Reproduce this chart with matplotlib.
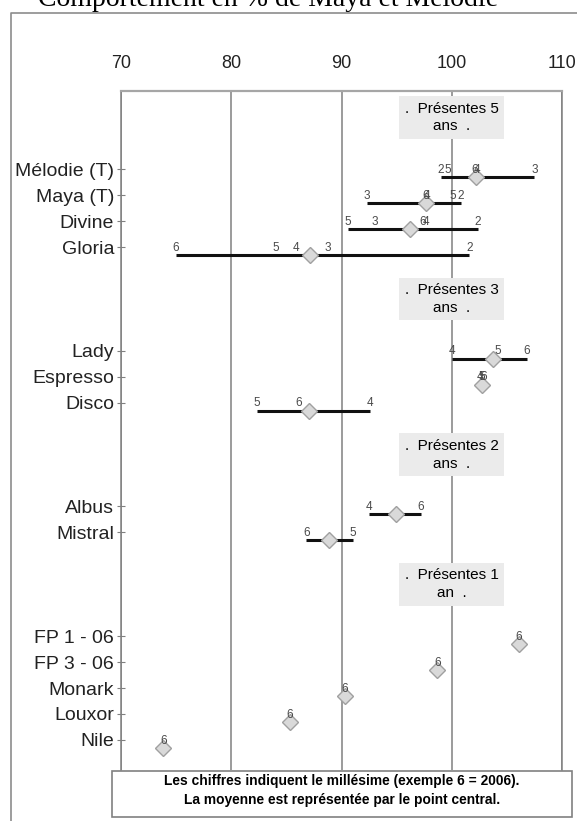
import matplotlib
matplotlib.use('agg')
import matplotlib.pyplot as plt
from matplotlib.lines import Line2D
from matplotlib.patches import Rectangle

# Données (valeurs en %)
titres_groupes = [".  Présentes 5\nans  .", ".  Présentes 3\nans  .",
                  ".  Présentes 2\nans  .", ".  Présentes 1\nan  ."]
varietes_par_groupe = [
    ['Mélodie (T)', 'Maya (T)', 'Divine', 'Gloria'],
    ['Lady', 'Espresso', 'Disco'],
    ['Albus', 'Mistral'],
    ['FP 1 - 06', 'FP 3 - 06', 'Monark', 'Louxor', 'Nile'],
]
# millésimes (6 = 2006) et valeur de chaque année
annees = [
    [2, 5, 6, 4, 3], [3, 6, 4, 5, 2], [5, 3, 6, 4, 2], [6, 5, 4, 3, 2],
    [4, 5, 6], [4, 5, 6], [5, 6, 4],
    [4, 6], [6, 5],
    [6], [6], [6], [6], [6],
]
valeurs = [
    [99.0, 99.6, 102.1, 102.3, 107.5],
    [92.3, 97.6, 97.8, 100.1, 100.8],
    [90.6, 93.0, 97.35, 97.7, 102.35],
    [75.0, 84.0, 85.85, 88.8, 101.6],
    [100.0, 104.2, 106.8],
    [102.6, 102.75, 102.9],
    [82.3, 86.1, 92.6],
    [92.5, 97.2],
    [86.8, 91.0],
    [106.1], [98.7], [90.3], [85.3], [73.85],
]
moyennes = [102.2, 97.7, 96.25, 87.1, 103.7, 102.75, 87.05,
            94.9, 88.9, 106.1, 98.7, 90.3, 85.3, 73.85]
graduations = [70, 80, 90, 100, 110]

W, H = 577, 821
fig = plt.figure(figsize=(W / 100, H / 100), dpi=100)

# cadre extérieur (coupé à droite et en bas)
fig.add_artist(Line2D([11 / W, 11 / W, 1], [0, 1 - 13 / H, 1 - 13 / H],
                      transform=fig.transFigure, color='#8c8c8c', lw=1.2))
# titre coupé en haut comme sur l'original
fig.text(38 / W, 1 - 6 / H, 'Comportement en % de Maya et Mélodie',
         family='Liberation Serif', fontsize=20, va='baseline', ha='left')

ax = fig.add_axes([121 / W, (H - 770) / H, 441 / W, (770 - 91.5) / H])

# positions verticales : titre de groupe, ligne vide, variétés, ligne vide...
pos_titres = []
positions = []
noms = []
k = -2
for titre, vars_g in zip(titres_groupes, varietes_par_groupe):
    pos_titres.append(k)
    k += 2
    for v in vars_g:
        positions.append(k)
        noms.append(v)
        k += 1
    k += 1

decalage = 0.3  # les barres sont un peu sous les étiquettes dans l'original

for i, y in enumerate(positions):
    yy = y + decalage
    vals = valeurs[i]
    if len(vals) > 1:
        ax.plot([min(vals), max(vals)], [yy, yy], color='#111111', lw=2.2,
                solid_capstyle='butt', zorder=3)
    ax.plot(moyennes[i], yy, marker='D', ms=8.5, mfc='#d9d9d9', mec='#a0a0a0',
            mew=1, zorder=4)
    for a, v in zip(annees[i], vals):
        ax.annotate(str(a), (v, yy), xytext=(0, 3), textcoords='offset points',
                    ha='center', va='baseline', fontsize=8.5, color='#4a4a4a',
                    family='Liberation Sans', zorder=5)

for titre, y in zip(titres_groupes, pos_titres):
    ax.text(100, y, titre, ha='center', va='center', multialignment='center',
            fontsize=11, family='Liberation Sans', zorder=6, linespacing=1.35,
            bbox=dict(boxstyle='square,pad=0.35', fc='#ebebeb', ec='none'))

ax.set_xlim(70, 110)
ax.set_ylim(23.16, -3)
ax.set_yticks(positions, noms)
ax.set_xticks(graduations, [str(g) for g in graduations])
ax.xaxis.tick_top()
ax.tick_params(axis='x', length=0, pad=14, labelsize=13)
ax.tick_params(axis='y', direction='inout', length=6, color='#808080',
               labelsize=14, pad=2)
for lab in ax.get_xticklabels() + ax.get_yticklabels():
    lab.set_family('Liberation Sans')
    lab.set_color('#222222')
ax.grid(axis='x', color='#808080', lw=1.1)
ax.set_axisbelow(True)
ax.spines['bottom'].set_visible(False)
ax.spines['top'].set_color('#a6a6a6')
ax.spines['top'].set_linewidth(1.6)
for cote in ['left', 'right']:
    ax.spines[cote].set_color('#808080')
    ax.spines[cote].set_linewidth(1.1)

# boîte d'explication en bas
fig.add_artist(Rectangle((112 / W, 4 / H), 460 / W, 46 / H,
                         transform=fig.transFigure, fc='white', ec='#808080',
                         lw=1.2, zorder=10))
fig.text(342 / W, 1 - 781 / H,
         'Les chiffres indiquent le millésime (exemple 6 = 2006).',
         ha='center', va='center', fontsize=9.9, weight='bold',
         family='Liberation Sans', zorder=11)
fig.text(342 / W, 1 - 800 / H,
         'La moyenne est représentée par le point central.',
         ha='center', va='center', fontsize=9.9, weight='bold',
         family='Liberation Sans', zorder=11)

fig.savefig('out.png', dpi=100)
